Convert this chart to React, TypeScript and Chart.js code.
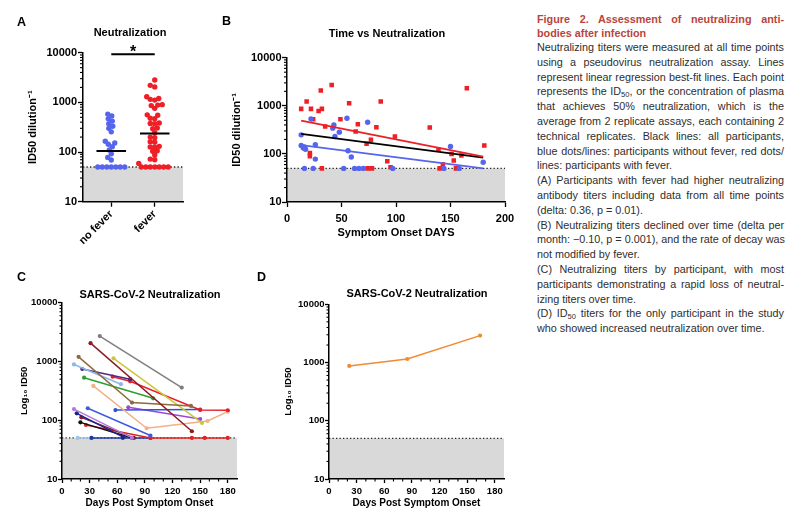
import React, { useEffect, useRef } from "react";
import { Chart, registerables } from "chart.js";
Chart.register(...registerables);

const FONT = "'Liberation Sans', Arial, Helvetica, sans-serif";
const BLUE = "#5566ec";
const RED = "#ee1f26";
const GRAY_FILL = "#d9d9d9";
const LOD = 50;

// ---------- shared ticks ----------
const yMajorTicks = [10, 100, 1000, 10000];
const bDayTicks = [0, 50, 100, 150, 200];
const dayTicks = [0, 30, 60, 90, 120, 150, 180];

// ---------- Panel A ----------
const groupLabels = ["no fever", "fever"];
const noFeverTiters = [580, 530, 470, 420, 370, 330, 300, 255, 165, 152, 143, 128, 110, 92, 78, 69, 50, 50, 50, 50, 50, 50, 50];
const feverTiters = [2820, 2200, 2050, 1300, 1200, 1150, 1110, 900, 880, 860, 757, 560, 550, 480, 470, 385, 375, 370, 305, 295, 245, 200, 195, 162, 158, 130, 127, 125, 106, 104, 87, 72, 70, 59, 50, 50, 50, 50, 50, 50, 50];
const groupMeans = [105, 235];
const sigLevel = 9300;

// ---------- Panel B ----------
const feverDays = [13, 18, 22, 21, 21, 24, 31, 29, 32, 32, 35, 41, 49, 57, 63, 65, 73, 74, 77, 78, 82, 86, 92, 95, 99, 131, 139, 140, 143, 151, 153, 155, 160, 165, 181];
const feverB = [863, 1224, 863, 104, 89, 527, 2070, 783, 863, 50, 371, 2710, 527, 1130, 292, 414, 162, 50, 196, 50, 359, 1224, 70, 53, 230, 353, 122, 50, 61, 100, 73, 50, 93, 2312, 150];
const noFeverDays = [13, 13, 15, 16, 17, 22, 26, 26, 42, 43, 44, 48, 55, 56, 59, 74, 150, 180, 16, 24, 52, 62, 66, 70, 97, 144, 158];
const noFeverB = [249, 150, 132, 140, 125, 535, 155, 78, 343, 401, 230, 283, 552, 116, 86, 456, 143, 67, 50, 50, 50, 50, 50, 50, 50, 50, 50];
const fitDays = [13, 180];
const fitAll = [262, 84];
const fitNoFever = [152, 50];
const fitFever = [494, 88];

// ---------- Panel C ----------
const participantColors = [
  "#7f7f7f", "#8b1c24", "#8c6a3c", "#c9c83a", "#8fb6e8", "#4a2c84", "#e8202a",
  "#2ca02c", "#f2b184", "#2a52d8", "#9a48dc", "#3e5ce0", "#b07ae0", "#1e2090",
  "#111111", "#7c1c2c", "#e42020", "#1c3a9c", "#a0c4ea",
];
const participantDays = [
  [41, 130], [31, 141], [18, 76, 140], [56, 152], [13, 64], [22, 74], [55, 74, 150, 180],
  [24, 99], [34, 92, 158, 180], [58, 150], [72, 150], [28, 96], [13, 76], [16, 66],
  [20, 76], [21, 78], [26, 96, 141, 155, 180], [32, 66, 96], [17, 32],
];
const participantTiters = [
  [2700, 360], [2050, 65], [1200, 200, 175], [1130, 90], [890, 410], [745, 500], [550, 460, 150, 148],
  [530, 236], [383, 73, 97, 140], [149, 152], [166, 105], [160, 55], [155, 50], [131, 52],
  [92, 50], [112, 50], [83, 50, 50, 50, 50], [50, 50, 50], [50, 50],
];

// ---------- Panel D ----------
const dDays = [22, 85, 164];
const dTiters = [873, 1150, 2900];
const ORANGE = "#f28a30";

// ---------- caption ----------
const captionTitle = ["Figure 2. Assessment of neutralizing anti-", "bodies after infection"];
const captionLines: [string, boolean][] = [
  ["Neutralizing titers were measured at all time points", true],
  ["using a pseudovirus neutralization assay. Lines", true],
  ["represent linear regression best-fit lines. Each point", true],
  ["represents the ID|50|, or the concentration of plasma", true],
  ["that achieves 50% neutralization, which is the", true],
  ["average from 2 replicate assays, each containing 2", true],
  ["technical replicates. Black lines: all participants,", true],
  ["blue dots/lines: participants without fever, red dots/", true],
  ["lines: participants with fever.", false],
  ["(A) Participants with fever had higher neutralizing", true],
  ["antibody titers including data from all time points", true],
  ["(delta: 0.36, p = 0.01).", false],
  ["(B) Neutralizing titers declined over time (delta per", true],
  ["month: \u22120.10, p = 0.001), and the rate of decay was", true],
  ["not modified by fever.", false],
  ["(C) Neutralizing titers by participant, with most", true],
  ["participants demonstrating a rapid loss of neutral-", true],
  ["izing titers over time.", false],
  ["(D) ID|50| titers for the only participant in the study", true],
  ["who showed increased neutralization over time.", false],
];

// ---------- helpers ----------
function swarm(values: number[], pxPerDecade: number, pxPerUnit: number, gap: number): number[] {
  const order = values.map((_, i) => i).sort((a, b) => values[a] - values[b]);
  const placed: { x: number; y: number }[] = [];
  const off = new Array(values.length).fill(0);
  for (const i of order) {
    const y = Math.log10(values[i]) * pxPerDecade;
    let best = 0;
    for (let k = 0; k < 600; k++) {
      const cand = (k % 2 === 0 ? 1 : -1) * Math.ceil(k / 2) * 0.5;
      if (placed.every((p) => (p.x - cand) ** 2 + (p.y - y) ** 2 >= gap * gap)) {
        best = cand;
        break;
      }
    }
    placed.push({ x: best, y });
    off[i] = best / pxPerUnit;
  }
  return off;
}

function minorLogValues(): number[] {
  const out: number[] = [];
  for (let i = 0; i < yMajorTicks.length - 1; i++) {
    for (let k = 2; k <= 9; k++) out.push(yMajorTicks[i] * k);
  }
  return out;
}

function minorDayValues(): number[] {
  const out: number[] = [];
  for (let i = 0; i < dayTicks.length - 1; i++) {
    const step = (dayTicks[i + 1] - dayTicks[i]) / 3;
    out.push(dayTicks[i] + step, dayTicks[i] + 2 * step);
  }
  return out;
}

const lodPlugin = {
  id: "lod",
  beforeDraw(chart: any) {
    const { ctx, chartArea, scales } = chart;
    const yl = scales.y.getPixelForValue(LOD);
    ctx.save();
    ctx.fillStyle = GRAY_FILL;
    ctx.fillRect(chartArea.left, yl, chartArea.right - chartArea.left, chartArea.bottom - yl);
    ctx.restore();
  },
  beforeDatasetsDraw(chart: any) {
    const { ctx, chartArea, scales } = chart;
    const yl = scales.y.getPixelForValue(LOD);
    ctx.save();
    ctx.strokeStyle = "#222";
    ctx.lineWidth = 1.3;
    ctx.setLineDash([1.3, 2.2]);
    ctx.beginPath();
    ctx.moveTo(chartArea.left, yl);
    ctx.lineTo(chartArea.right, yl);
    ctx.stroke();
    ctx.restore();
  },
};

function minorTicksPlugin(axes: { id: string; values: number[]; len: number }[]) {
  return {
    id: "minorTicks",
    afterDraw(chart: any) {
      const ctx = chart.ctx;
      ctx.save();
      ctx.strokeStyle = "#000";
      ctx.lineWidth = 1.1;
      for (const a of axes) {
        const s = chart.scales[a.id];
        for (const v of a.values) {
          const p = s.getPixelForValue(v);
          ctx.beginPath();
          if (s.isHorizontal()) {
            ctx.moveTo(p, s.top);
            ctx.lineTo(p, s.top + a.len);
          } else {
            ctx.moveTo(s.right, p);
            ctx.lineTo(s.right - a.len, p);
          }
          ctx.stroke();
        }
      }
      ctx.restore();
    },
  };
}

function logY(o: { width: number; title: string; titleSize: number; titlePad: number; tickSize: number; tickPad: number; tickLen: number }) {
  return {
    type: "logarithmic",
    min: 10,
    max: 10000,
    afterFit: (s: any) => {
      s.width = o.width;
    },
    afterBuildTicks: (s: any) => {
      s.ticks = yMajorTicks.map((v) => ({ value: v }));
    },
    ticks: {
      callback: (v: any) => String(v),
      font: { family: FONT, size: o.tickSize, weight: "bold" },
      color: "#000",
      padding: o.tickPad,
      autoSkip: false,
    },
    grid: { display: true, drawOnChartArea: false, drawTicks: true, tickLength: o.tickLen, tickColor: "#000", tickWidth: 1.3 },
    border: { display: true, color: "#000", width: 1.5 },
    title: {
      display: true,
      text: o.title,
      font: { family: FONT, size: o.titleSize, weight: "bold" },
      color: "#000",
      padding: { top: o.titlePad, bottom: 0 },
    },
  };
}

function linX(o: { min: number; max: number; ticks: number[]; height: number; title: string; titleSize: number; titlePad: number; tickSize: number; tickPad: number; tickLen: number }) {
  return {
    type: "linear",
    min: o.min,
    max: o.max,
    afterFit: (s: any) => {
      s.height = o.height;
    },
    afterBuildTicks: (s: any) => {
      s.ticks = o.ticks.map((v) => ({ value: v }));
    },
    ticks: {
      callback: (v: any) => String(v),
      font: { family: FONT, size: o.tickSize, weight: "bold" },
      color: "#000",
      padding: o.tickPad,
      autoSkip: false,
      maxRotation: 0,
      minRotation: 0,
    },
    grid: { display: true, drawOnChartArea: false, drawTicks: true, tickLength: o.tickLen, tickColor: "#000", tickWidth: 1.3 },
    border: { display: true, color: "#000", width: 1.5 },
    title: {
      display: true,
      text: o.title,
      font: { family: FONT, size: o.titleSize, weight: "bold" },
      color: "#000",
      padding: { top: 0, bottom: o.titlePad },
    },
  };
}

const basePlugins = { legend: { display: false }, tooltip: { enabled: false }, title: { display: false } };

// ---------- chart configs ----------
function configA(): any {
  const blueOff = swarm(noFeverTiters, 49.7, 43.5, 4.3);
  const redOff = swarm(feverTiters, 49.7, 43.5, 4.3);
  const meanHalf = 0.34;
  const sigPlugin = {
    id: "sig",
    afterDatasetsDraw(chart: any) {
      const { ctx, scales } = chart;
      const x = (scales.x.getPixelForValue(1) + scales.x.getPixelForValue(2)) / 2;
      const y = scales.y.getPixelForValue(sigLevel);
      ctx.save();
      ctx.fillStyle = "#000";
      ctx.font = `bold 16px ${FONT}`;
      ctx.textAlign = "center";
      ctx.textBaseline = "alphabetic";
      ctx.fillText("*", x, y + 3);
      ctx.restore();
    },
  };
  return {
    type: "scatter",
    data: {
      datasets: [
        { data: [{ x: 1, y: sigLevel }, { x: 2, y: sigLevel }], showLine: true, borderColor: "#000", borderWidth: 2, pointRadius: 0, clip: false },
        { data: [{ x: 1 - meanHalf, y: groupMeans[0] }, { x: 1 + meanHalf, y: groupMeans[0] }], showLine: true, borderColor: "#000", borderWidth: 2, pointRadius: 0 },
        { data: [{ x: 2 - meanHalf, y: groupMeans[1] }, { x: 2 + meanHalf, y: groupMeans[1] }], showLine: true, borderColor: "#000", borderWidth: 2, pointRadius: 0 },
        { data: noFeverTiters.map((v, i) => ({ x: 1 + blueOff[i], y: v })), backgroundColor: BLUE, borderWidth: 0, pointRadius: 2.7 },
        { data: feverTiters.map((v, i) => ({ x: 2 + redOff[i], y: v })), backgroundColor: RED, borderWidth: 0, pointRadius: 2.7 },
      ],
    },
    options: {
      responsive: false,
      animation: false,
      devicePixelRatio: 1,
      events: [],
      layout: { padding: { left: 0, right: 22, top: 52.7, bottom: 0 } },
      plugins: basePlugins,
      scales: {
        x: {
          type: "linear",
          min: 0.35,
          max: 2.65,
          afterFit: (s: any) => {
            s.height = 43.3;
          },
          afterBuildTicks: (s: any) => {
            s.ticks = groupLabels.map((_, i) => ({ value: i + 1 }));
          },
          ticks: {
            callback: (v: any) => groupLabels[Math.round(v) - 1] ?? "",
            font: { family: FONT, size: 11, weight: "bold" },
            color: "#000",
            padding: 1,
            autoSkip: false,
            minRotation: 45,
            maxRotation: 45,
          },
          grid: { display: true, drawOnChartArea: false, drawTicks: true, tickLength: 5, tickColor: "#000", tickWidth: 1.3 },
          border: { display: true, color: "#000", width: 1.5 },
        },
        y: logY({ width: 83, title: "ID50 dilution\u207B\u00B9", titleSize: 11, titlePad: 26.4, tickSize: 11, tickPad: 1, tickLen: 5 }),
      },
    },
    plugins: [lodPlugin, sigPlugin, minorTicksPlugin([{ id: "y", values: minorLogValues(), len: 3 }])],
  };
}

function configB(): any {
  return {
    type: "scatter",
    data: {
      datasets: [
        { data: fitDays.map((d, i) => ({ x: d, y: fitFever[i] })), showLine: true, borderColor: RED, borderWidth: 1.8, pointRadius: 0 },
        { data: fitDays.map((d, i) => ({ x: d, y: fitAll[i] })), showLine: true, borderColor: "#000", borderWidth: 1.8, pointRadius: 0 },
        { data: fitDays.map((d, i) => ({ x: d, y: fitNoFever[i] })), showLine: true, borderColor: BLUE, borderWidth: 1.8, pointRadius: 0 },
        { data: noFeverDays.map((d, i) => ({ x: d, y: noFeverB[i] })), backgroundColor: BLUE, borderWidth: 0, pointRadius: 2.7, pointStyle: "circle" },
        { data: feverDays.map((d, i) => ({ x: d, y: feverB[i] })), backgroundColor: RED, borderWidth: 0, pointRadius: 3.2, pointStyle: "rect" },
      ],
    },
    options: {
      responsive: false,
      animation: false,
      devicePixelRatio: 1,
      events: [],
      layout: { padding: { left: 0, right: 20, top: 57.7, bottom: 0 } },
      plugins: basePlugins,
      scales: {
        x: linX({ min: 0, max: 200, ticks: bDayTicks, height: 43, title: "Symptom Onset DAYS", titleSize: 11, titlePad: 5, tickSize: 11, tickPad: 5, tickLen: 5 }),
        y: logY({ width: 82, title: "ID50 dilution\u207B\u00B9", titleSize: 11, titlePad: 25, tickSize: 11, tickPad: 0.5, tickLen: 5 }),
      },
    },
    plugins: [lodPlugin, minorTicksPlugin([{ id: "y", values: minorLogValues(), len: 3 }])],
  };
}

function dayLogOptions(yWidth: number, yTitlePad: number, right: number, top: number): any {
  return {
    responsive: false,
    animation: false,
    devicePixelRatio: 1,
    events: [],
    layout: { padding: { left: 0, right, top, bottom: 0 } },
    plugins: basePlugins,
    scales: {
      x: linX({ min: 0, max: 190, ticks: dayTicks, height: 34, title: "Days Post Symptom Onset", titleSize: 10, titlePad: 3.7, tickSize: 9.5, tickPad: 2.5, tickLen: 4 }),
      y: logY({ width: yWidth, title: "Log\u2081\u2080 ID50", titleSize: 9.5, titlePad: yTitlePad, tickSize: 9.5, tickPad: 0.5, tickLen: 4 }),
    },
  };
}

function configC(): any {
  return {
    type: "line",
    data: {
      datasets: participantDays.map((days, p) => ({
        data: days.map((d, i) => ({ x: d, y: participantTiters[p][i] })),
        borderColor: participantColors[p],
        backgroundColor: participantColors[p],
        borderWidth: 1.5,
        pointRadius: 2.1,
        pointBorderWidth: 0,
        tension: 0,
      })),
    },
    options: dayLogOptions(62, 19, 18, 47.7),
    plugins: [lodPlugin, minorTicksPlugin([{ id: "y", values: minorLogValues(), len: 2.5 }, { id: "x", values: minorDayValues(), len: 2.5 }])],
  };
}

function configD(): any {
  return {
    type: "line",
    data: {
      datasets: [
        {
          data: dDays.map((d, i) => ({ x: d, y: dTiters[i] })),
          borderColor: ORANGE,
          backgroundColor: ORANGE,
          borderWidth: 1.5,
          pointRadius: 2.1,
          pointBorderWidth: 0,
          tension: 0,
        },
      ],
    },
    options: dayLogOptions(69, 23, 26, 49.3),
    plugins: [lodPlugin, minorTicksPlugin([{ id: "y", values: minorLogValues(), len: 2.5 }, { id: "x", values: minorDayValues(), len: 2.5 }])],
  };
}

// ---------- components ----------
function ChartBox({ left, top, width, height, make }: { left: number; top: number; width: number; height: number; make: () => any }) {
  const ref = useRef<HTMLCanvasElement>(null);
  useEffect(() => {
    const chart = new Chart(ref.current as HTMLCanvasElement, make());
    return () => chart.destroy();
  }, []);
  return <canvas ref={ref} width={width} height={height} style={{ position: "absolute", left, top, width, height }} />;
}

function Label({ x, y, text, size, anchor = "center" }: { x: number; y: number; text: string; size: number; anchor?: string }) {
  return (
    <div
      style={{
        position: "absolute",
        left: x,
        top: y,
        transform: anchor === "center" ? "translate(-50%, -50%)" : "translate(0, -50%)",
        fontFamily: FONT,
        fontSize: size,
        fontWeight: "bold",
        lineHeight: 1,
        whiteSpace: "nowrap",
        color: "#000",
      }}
    >
      {text}
    </div>
  );
}

function renderRich(s: string) {
  const parts = s.split("|");
  return parts.map((p, i) =>
    i % 2 === 1 ? (
      <sub key={i} style={{ fontSize: "0.7em", verticalAlign: "-0.2em", lineHeight: 0 }}>
        {p}
      </sub>
    ) : (
      <React.Fragment key={i}>{p}</React.Fragment>
    )
  );
}

function Caption() {
  const lineH = 14.8;
  return (
    <div style={{ position: "absolute", left: 537, top: 12, width: 247, fontFamily: FONT }}>
      {captionTitle.map((t, i) => (
        <div
          key={"t" + i}
          style={{
            height: 14,
            lineHeight: "14px",
            fontSize: 10.8,
            fontWeight: "bold",
            color: "#b8453c",
            whiteSpace: "nowrap",
            textAlign: "justify",
            textAlignLast: i === 0 ? "justify" : "left",
          } as any}
        >
          {t}
        </div>
      ))}
      {captionLines.map(([t, j], i) => (
        <div
          key={"b" + i}
          style={{
            height: lineH,
            lineHeight: lineH + "px",
            fontSize: 10.8,
            color: "#2e2e2e",
            whiteSpace: "nowrap",
            textAlign: "justify",
            textAlignLast: j ? "justify" : "left",
          } as any}
        >
          {renderRich(t)}
        </div>
      ))}
    </div>
  );
}

export default function App() {
  return (
    <div style={{ position: "absolute", left: 0, top: 0, width: 785, height: 513, background: "#fff", overflow: "hidden" }}>
      <ChartBox left={0} top={0} width={205} height={245} make={configA} />
      <ChartBox left={205} top={0} width={320} height={245} make={configB} />
      <ChartBox left={0} top={255} width={255} height={258} make={configC} />
      <ChartBox left={260} top={255} width={270} height={258} make={configD} />
      <Label x={17} y={22} text="A" size={12.5} anchor="left" />
      <Label x={130} y={32} text="Neutralization" size={11} />
      <Label x={222} y={21} text="B" size={12.5} anchor="left" />
      <Label x={387} y={33} text="Time vs Neutralization" size={11} />
      <Label x={17} y={277} text="C" size={12.5} anchor="left" />
      <Label x={150} y={294} text="SARS-CoV-2 Neutralization" size={11} />
      <Label x={257} y={277} text="D" size={12.5} anchor="left" />
      <Label x={417} y={293} text="SARS-CoV-2 Neutralization" size={11} />
      <Caption />
    </div>
  );
}
